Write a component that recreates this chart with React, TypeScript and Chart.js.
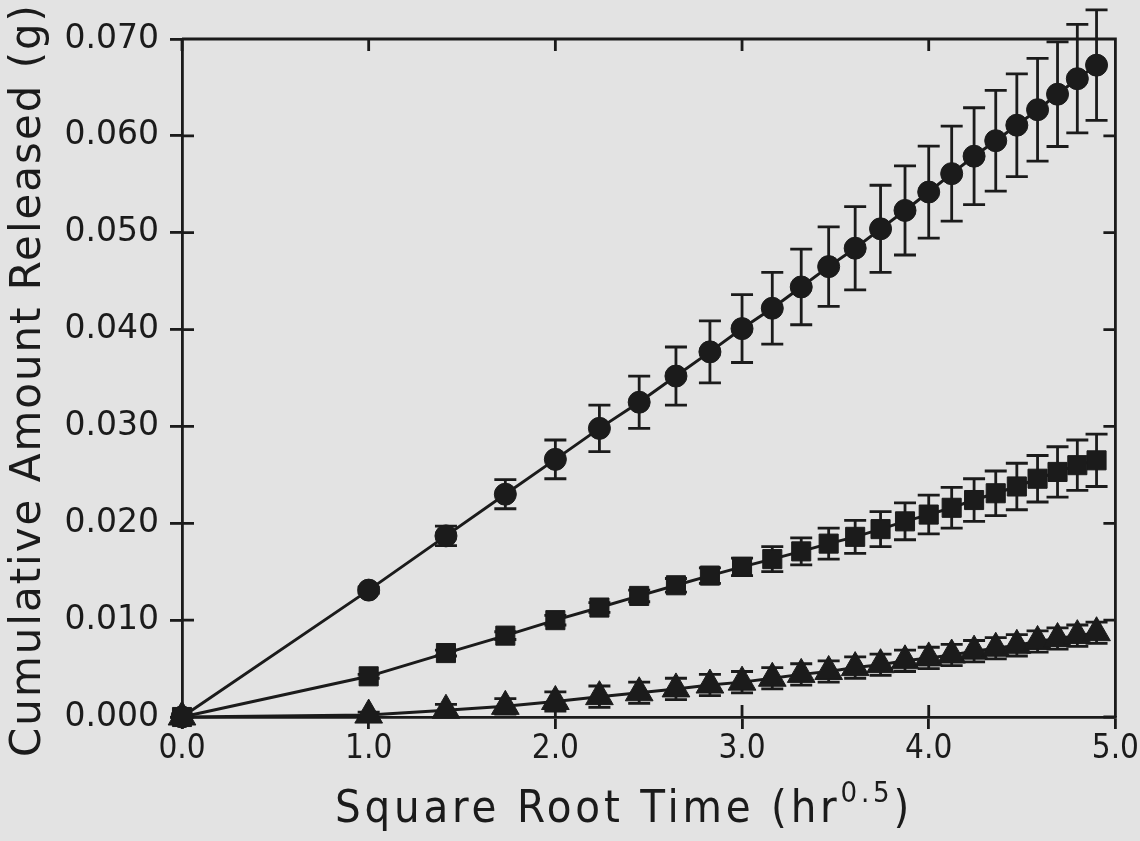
import React, { useEffect, useRef } from "react";
import { Chart, registerables } from "chart.js";

Chart.register(...registerables);

// Square root of sampling time (hr^0.5)
const sqrtTime = [
  0.0, 1.0, 1.414, 1.732, 2.0, 2.236, 2.449, 2.646, 2.828, 3.0, 3.162, 3.317, 3.464,
  3.606, 3.742, 3.873, 4.0, 4.123, 4.243, 4.359, 4.472, 4.583, 4.69, 4.796, 4.899,
];

// Cumulative amount released (g), mean and error for each formulation
const circleMean = [
  0, 0.0131, 0.0187, 0.023, 0.0266, 0.0298, 0.0325, 0.0352, 0.0377, 0.0401, 0.0422, 0.0444,
  0.0465, 0.0484, 0.0504, 0.0523, 0.0542, 0.0561, 0.0579, 0.0595, 0.0611, 0.0627, 0.0643,
  0.0659, 0.0673,
];
const circleErr = [
  0, 0.0003, 0.001, 0.0015, 0.002, 0.0024, 0.0027, 0.003, 0.0032, 0.0035, 0.0037, 0.0039,
  0.0041, 0.0043, 0.0045, 0.0046, 0.00475, 0.0049, 0.005, 0.0052, 0.0053, 0.0053, 0.0054,
  0.0056, 0.0057,
];
const squareMean = [
  0, 0.0042, 0.0066, 0.0084, 0.01, 0.0113, 0.0125, 0.0136, 0.0146, 0.0155, 0.0163, 0.0171,
  0.0179, 0.0186, 0.0194, 0.0202, 0.0209, 0.0216, 0.0224, 0.0231, 0.0238, 0.0246, 0.0253,
  0.026, 0.0265,
];
const squareErr = [
  0, 0.0002, 0.0003, 0.0004, 0.0005, 0.0005, 0.0006, 0.0007, 0.0008, 0.0009, 0.0013, 0.0014,
  0.0016, 0.0017, 0.0018, 0.0019, 0.002, 0.0021, 0.0022, 0.0023, 0.0024, 0.0024, 0.0026,
  0.0026, 0.0027,
];
const triangleMean = [
  0, 0.0002, 0.0007, 0.0011, 0.0016, 0.0021, 0.0025, 0.0029, 0.0033, 0.0036, 0.004, 0.0044,
  0.0047, 0.0051, 0.0054, 0.0058, 0.0061, 0.0064, 0.0068, 0.0071, 0.0074, 0.0078, 0.0081,
  0.0084, 0.0087,
];
const triangleErr = [
  0, 0.0003, 0.0006, 0.0008, 0.001, 0.0011, 0.0011, 0.0011, 0.0011, 0.0011, 0.0011, 0.0011,
  0.0011, 0.0011, 0.0011, 0.0011, 0.0011, 0.0011, 0.0011, 0.0011, 0.0011, 0.0011, 0.0011,
  0.0011, 0.0011,
];

const xTicks = [0, 1, 2, 3, 4, 5];
const xTickLabels = ["0.0", "1.0", "2.0", "3.0", "4.0", "5.0"];
const yTicks = [0, 0.01, 0.02, 0.03, 0.04, 0.05, 0.06, 0.07];
const yTickLabels = ["0.000", "0.010", "0.020", "0.030", "0.040", "0.050", "0.060", "0.070"];

const xTitle = "Square Root Time (hr";
const xTitleSup = "0.5";
const xTitleEnd = ")";
const yTitle = "Cumulative Amount Released (g)";

const W = 1140;
const H = 841;
const INK = "#1b1b1b";
const PAPER = "#e3e3e3";
const AXIS_W = 2.8;
const LINE_W = 3;
const TICK = 12;
const CAP = 11;
const GEO_FONT = "'DejaVu Sans', 'Noto Sans', sans-serif";
const NARROW_FONT = "'Liberation Sans Narrow', 'DejaVu Sans Condensed', 'Liberation Sans', sans-serif";

const paperPlugin = {
  id: "paper",
  beforeDraw(chart: any) {
    const { ctx } = chart;
    ctx.save();
    ctx.fillStyle = PAPER;
    ctx.fillRect(0, 0, chart.width, chart.height);
    ctx.restore();
  },
};

// Top/right frame and the inward-pointing tick marks on all four sides
const framePlugin = {
  id: "frame",
  beforeDatasetsDraw(chart: any) {
    const { ctx, chartArea: a, scales } = chart;
    ctx.save();
    ctx.strokeStyle = INK;
    ctx.lineWidth = AXIS_W;
    ctx.beginPath();
    ctx.moveTo(a.left, a.top);
    ctx.lineTo(a.right, a.top);
    ctx.lineTo(a.right, a.bottom);
    for (const v of xTicks) {
      const px = scales.x.getPixelForValue(v);
      ctx.moveTo(px, a.bottom);
      ctx.lineTo(px, a.bottom - TICK);
      ctx.moveTo(px, a.top);
      ctx.lineTo(px, a.top + TICK);
    }
    for (const v of yTicks) {
      const py = scales.y.getPixelForValue(v);
      ctx.moveTo(a.left, py);
      ctx.lineTo(a.left + TICK, py);
      ctx.moveTo(a.right, py);
      ctx.lineTo(a.right - TICK, py);
    }
    ctx.stroke();
    ctx.restore();
  },
};

// Vertical error bars with caps, drawn from each dataset's `errors` list
const errorBarPlugin = {
  id: "errorBars",
  beforeDatasetsDraw(chart: any) {
    const { ctx, scales } = chart;
    ctx.save();
    ctx.strokeStyle = INK;
    ctx.lineWidth = AXIS_W;
    chart.data.datasets.forEach((ds: any, i: number) => {
      const errs: number[] = ds.errors;
      if (!errs) return;
      const meta = chart.getDatasetMeta(i);
      meta.data.forEach((pt: any, j: number) => {
        const e = errs[j];
        if (!e) return;
        const v = ds.data[j].y;
        const top = scales.y.getPixelForValue(v + e);
        const bot = scales.y.getPixelForValue(v - e);
        ctx.beginPath();
        ctx.moveTo(pt.x, top);
        ctx.lineTo(pt.x, bot);
        ctx.moveTo(pt.x - CAP, top);
        ctx.lineTo(pt.x + CAP, top);
        ctx.moveTo(pt.x - CAP, bot);
        ctx.lineTo(pt.x + CAP, bot);
        ctx.stroke();
      });
    });
    ctx.restore();
  },
};

// Axis titles (the x title carries a superscript exponent)
const titlePlugin = {
  id: "axisTitles",
  afterDraw(chart: any) {
    const { ctx } = chart;
    ctx.save();
    ctx.fillStyle = INK;

    // y title, rotated
    ctx.save();
    ctx.translate(29, 381);
    ctx.rotate(-Math.PI / 2);
    ctx.font = `42px ${GEO_FONT}`;
    const natY = ctx.measureText(yTitle).width;
    const targetY = 752;
    const lsY = (targetY - natY) / (yTitle.length - 1);
    (ctx as any).letterSpacing = `${lsY}px`;
    ctx.textAlign = "left";
    ctx.textBaseline = "middle";
    ctx.fillText(yTitle, -targetY / 2, 0);
    ctx.restore();

    // x title with superscript
    const baseline = 822;
    const mainFont = `45px ${NARROW_FONT}`;
    const supFont = `29px ${NARROW_FONT}`;
    ctx.textBaseline = "alphabetic";
    ctx.textAlign = "left";
    ctx.font = mainFont;
    const w1 = ctx.measureText(xTitle).width;
    const w3 = ctx.measureText(xTitleEnd).width;
    ctx.font = supFont;
    const w2 = ctx.measureText(xTitleSup).width;
    const nat = w1 + w2 + w3;
    const target = 578;
    const nChars = xTitle.length + xTitleSup.length + xTitleEnd.length;
    const ls = (target - nat) / nChars;
    (ctx as any).letterSpacing = `${ls}px`;
    let x = 624 - target / 2;
    ctx.font = mainFont;
    ctx.fillText(xTitle, x, baseline);
    x += w1 + ls * xTitle.length;
    ctx.font = supFont;
    ctx.fillText(xTitleSup, x, baseline - 20);
    x += w2 + ls * xTitleSup.length;
    ctx.font = mainFont;
    ctx.fillText(xTitleEnd, x, baseline);
    ctx.restore();
  },
};

function points(ys: number[]) {
  return sqrtTime.map((t, i) => ({ x: t, y: ys[i] }));
}

function series(ys: number[], errs: number[], style: string, radius: number) {
  return {
    data: points(ys),
    errors: errs,
    showLine: true,
    borderColor: INK,
    borderWidth: LINE_W,
    pointStyle: style,
    pointRadius: radius,
    pointBackgroundColor: INK,
    pointBorderColor: INK,
    pointBorderWidth: 1,
    clip: false,
    tension: 0,
  };
}

export default function App() {
  const canvasRef = useRef<HTMLCanvasElement | null>(null);

  useEffect(() => {
    document.body.style.margin = "0";
    document.body.style.background = PAPER;
    const canvas = canvasRef.current;
    if (!canvas) return;
    const chart = new Chart(canvas, {
      type: "scatter",
      data: {
        datasets: [
          series(circleMean, circleErr, "circle", 11),
          series(squareMean, squareErr, "rect", 13.5),
          series(triangleMean, triangleErr, "triangle", 16),
        ] as any,
      },
      options: {
        animation: false,
        responsive: false,
        devicePixelRatio: 1,
        layout: { padding: { top: 39, right: 23, left: 0, bottom: 0 } },
        plugins: { legend: { display: false }, tooltip: { enabled: false } },
        scales: {
          x: {
            type: "linear",
            min: 0,
            max: 5,
            afterFit(s: any) {
              s.height = H - 717;
            },
            afterBuildTicks(s: any) {
              s.ticks = xTicks.map((v) => ({ value: v }));
            },
            ticks: {
              callback: (_v: any, i: number) => xTickLabels[i],
              font: { family: NARROW_FONT, size: 33 },
              color: INK,
              padding: 1,
              maxRotation: 0,
              autoSkip: false,
            },
            grid: { drawOnChartArea: false, tickLength: TICK, color: INK, lineWidth: AXIS_W },
            border: { color: INK, width: AXIS_W },
          },
          y: {
            type: "linear",
            min: 0,
            max: 0.07,
            afterFit(s: any) {
              s.width = 182;
            },
            afterBuildTicks(s: any) {
              s.ticks = yTicks.map((v) => ({ value: v }));
            },
            ticks: {
              callback: (_v: any, i: number) => yTickLabels[i],
              font: { family: GEO_FONT, size: 33 },
              color: INK,
              padding: 11,
              autoSkip: false,
            },
            grid: { drawOnChartArea: false, tickLength: TICK, color: INK, lineWidth: AXIS_W },
            border: { color: INK, width: AXIS_W },
          },
        },
      } as any,
      plugins: [paperPlugin, framePlugin, errorBarPlugin, titlePlugin],
    });
    return () => chart.destroy();
  }, []);

  return (
    <div style={{ position: "absolute", left: 0, top: 0, width: W, height: H, background: PAPER }}>
      <canvas ref={canvasRef} width={W} height={H} style={{ display: "block", width: W, height: H }} />
    </div>
  );
}
